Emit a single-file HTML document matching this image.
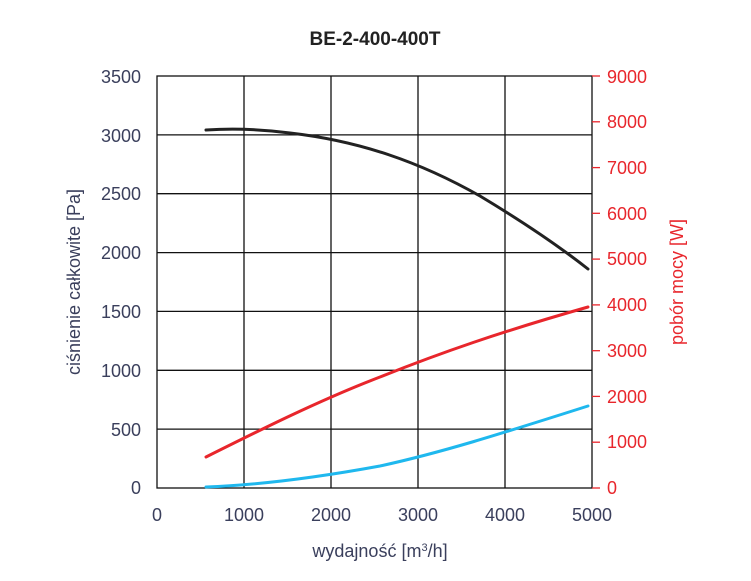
<!DOCTYPE html>
<html><head><meta charset="utf-8"><style>body{margin:0;background:#fff}</style></head>
<body>
<svg width="751" height="576" xmlns="http://www.w3.org/2000/svg" font-family="Liberation Sans, sans-serif">
<rect width="751" height="576" fill="#fff"/>
<text x="375" y="45" text-anchor="middle" font-size="19" font-weight="bold" fill="#222">BE-2-400-400T</text>
<g stroke="#111" stroke-width="1.3" fill="none">
<rect x="157" y="76" width="435" height="412"/>
<line x1="244" y1="76" x2="244" y2="488"/><line x1="331" y1="76" x2="331" y2="488"/>
<line x1="418" y1="76" x2="418" y2="488"/><line x1="505" y1="76" x2="505" y2="488"/>
<line x1="157" y1="134.9" x2="592" y2="134.9"/><line x1="157" y1="193.7" x2="592" y2="193.7"/>
<line x1="157" y1="252.6" x2="592" y2="252.6"/><line x1="157" y1="311.4" x2="592" y2="311.4"/>
<line x1="157" y1="370.3" x2="592" y2="370.3"/><line x1="157" y1="429.1" x2="592" y2="429.1"/>
</g>
<g stroke="#e8262c" stroke-width="1.3">
<line x1="592" y1="76" x2="600" y2="76"/><line x1="592" y1="121.8" x2="600" y2="121.8"/>
<line x1="592" y1="167.6" x2="600" y2="167.6"/><line x1="592" y1="213.3" x2="600" y2="213.3"/>
<line x1="592" y1="259.1" x2="600" y2="259.1"/><line x1="592" y1="304.9" x2="600" y2="304.9"/>
<line x1="592" y1="350.7" x2="600" y2="350.7"/><line x1="592" y1="396.4" x2="600" y2="396.4"/>
<line x1="592" y1="442.2" x2="600" y2="442.2"/><line x1="592" y1="488" x2="600" y2="488"/>
</g>
<g font-size="18" fill="#3a3f5c" text-anchor="end">
<text x="141" y="83">3500</text><text x="141" y="142">3000</text><text x="141" y="200">2500</text>
<text x="141" y="259">2000</text><text x="141" y="318">1500</text><text x="141" y="377">1000</text>
<text x="141" y="436">500</text><text x="141" y="494">0</text>
</g>
<g font-size="18" fill="#3a3f5c" text-anchor="middle">
<text x="157" y="521">0</text><text x="244" y="521">1000</text><text x="331" y="521">2000</text>
<text x="418" y="521">3000</text><text x="505" y="521">4000</text><text x="592" y="521">5000</text>
</g>
<g font-size="18" fill="#e8262c" text-anchor="start">
<text x="607" y="83">9000</text><text x="607" y="128">8000</text><text x="607" y="174">7000</text>
<text x="607" y="220">6000</text><text x="607" y="265">5000</text><text x="607" y="311">4000</text>
<text x="607" y="357">3000</text><text x="607" y="403">2000</text><text x="607" y="448">1000</text>
<text x="607" y="494">0</text>
</g>
<text x="380" y="557" text-anchor="middle" font-size="18" fill="#3a3f5c">wydajność [m<tspan font-size="11" dy="-6">3</tspan><tspan dy="6">/h]</tspan></text>
<text transform="translate(80,282) rotate(-90)" text-anchor="middle" font-size="18" fill="#3a3f5c">ciśnienie całkowite [Pa]</text>
<text transform="translate(683,282) rotate(-90)" text-anchor="middle" font-size="18" fill="#e8262c">pobór mocy [W]</text>
<g fill="none" stroke-width="3" stroke-linecap="round">
<path d="M206,130 C230,128.5 260,129 290,133 C360,141 420,162 480,196 C520,220 555,243 588,269" stroke="#222"/>
<path d="M206,457 C260,430 320,400 380,377 C440,353 500,332 588,307" stroke="#e8262c"/>
<path d="M206,487 C260,485 320,477 380,466 C440,453 500,434 588,406" stroke="#1fb8ee"/>
</g>
</svg>
</body></html>
